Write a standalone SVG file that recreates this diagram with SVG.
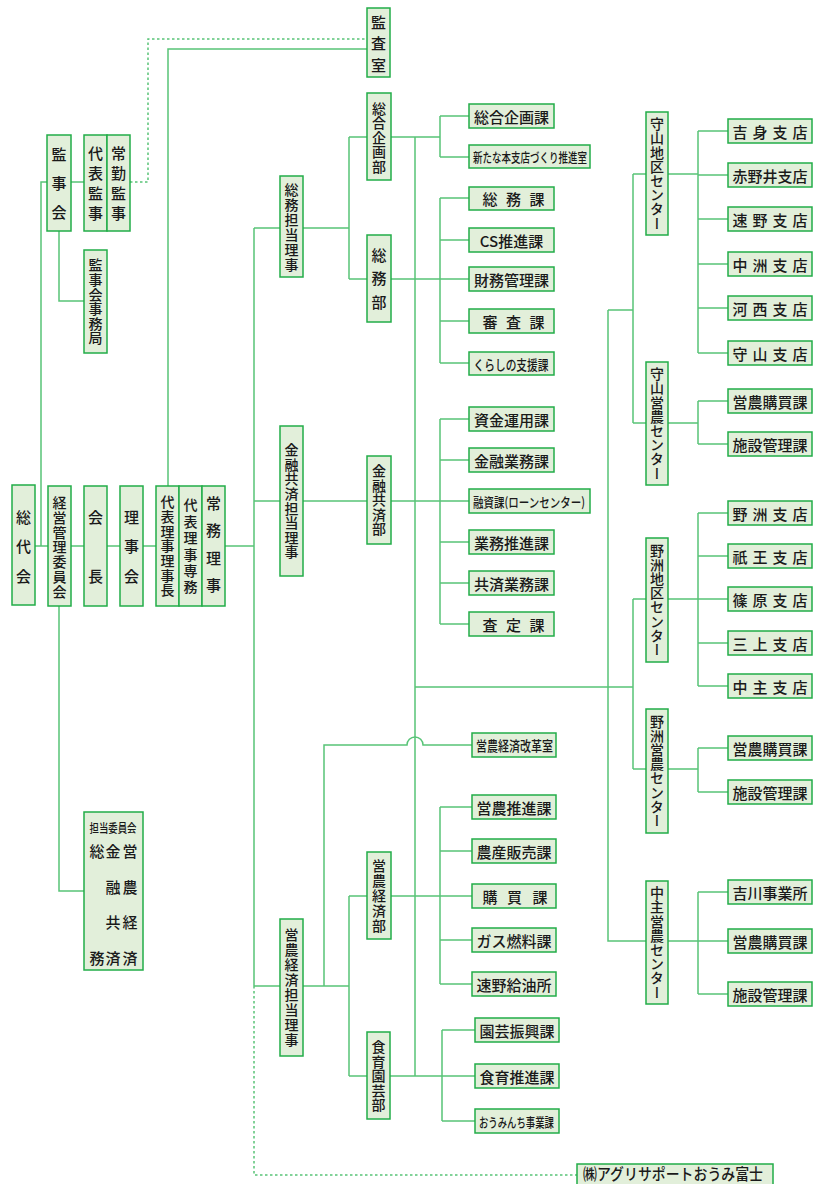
<svg xmlns="http://www.w3.org/2000/svg" width="816" height="1184" viewBox="0 0 816 1184">
<style>
.b{fill:#e2efda;stroke:#22ad48;stroke-width:1.5}
.t{font-family:"Noto Sans CJK JP","Noto Sans CJK SC",sans-serif;font-size:15px;font-weight:500;fill:#1a1a1a;text-anchor:middle;dominant-baseline:central}
.v{writing-mode:vertical-rl;font-size:14px}
.c{fill:none;stroke:#58c477;stroke-width:1.5}
.d{fill:none;stroke:#58c477;stroke-width:1.5;stroke-dasharray:2.5 2.5}
</style>
<rect width="816" height="1184" fill="#fff"/>
<g id="connectors">
<path class="c" d="M35,546H48M71,546H84M107,546H120M143,546H156M225,546H254M41,546V182H47M71,182H84M168,486V49H367M59,231V301H84M59,606V891H84M254,228V986M254,228H280M254,501H280M254,986H280"/>
<path class="c" d="M303,228H349M349,137V279M349,137H367M349,279H367M391,137H440M440,116V157M440,116H469M440,157H469M415,137V1076"/>
<path class="c" d="M391,279H440M440,198V363M440,198H469M440,240H469M440,279H469M440,321H469M440,363H469"/>
<path class="c" d="M303,501H367M391,501H440M440,419V624M440,419H469M440,460H469M440,501H469M440,542H469M440,583H469M440,624H469"/>
<path class="c" d="M303,986H349M349,896V1076M349,896H367M349,1076H367M324,986V745H407A8,8 0 0 1 423,745H472"/>
<path class="c" d="M391,896H440M440,807V984M440,807H472M440,851H472M440,896H472M440,940H472M440,984H472"/>
<path class="c" d="M390,1076H442M442,1030V1121M442,1030H475M442,1076H475M442,1121H475"/>
<path class="c" d="M415,687H633M633,599V769M633,599H646M633,769H646M608,310V941H646M608,310H633M633,174V423M633,174H646M633,423H646"/>
<path class="c" d="M668,174H698M698,131V353M698,131H728M698,175H728M698,219H728M698,264H728M698,308H728M698,353H728M668,423H698M698,401V444M698,401H728M698,444H728"/>
<path class="c" d="M668,599H698M698,513V686M698,513H728M698,556H728M698,599H728M698,643H728M698,686H728M668,769H698M698,748V792M698,748H728M698,792H728"/>
<path class="c" d="M668,941H698M698,892V994M698,892H728M698,941H728M698,994H728"/>
<path class="d" d="M130,182H148V39H367M254,986V1175H577"/>
</g>
<g id="kansashitsu"><rect class="b" x="367" y="8" width="23" height="69"/><text class="t v" x="378.5" y="22 43.5 65" style="font-size:15px">監査室</text></g>
<g id="sodaikai"><rect class="b" x="12" y="485" width="23" height="120"/><text class="t v" x="23.5" y="517 546.5 576" style="font-size:15px">総代会</text></g>
<g id="keiei"><rect class="b" x="48" y="486" width="23" height="120"/><text class="t v" x="59.5" y="502.6 517.4 532.2 547 561.8 576.6 591.4">経営管理委員会</text></g>
<g id="kaicho"><rect class="b" x="84" y="486" width="23" height="120"/><text class="t v" x="95.5" y="517 576" style="font-size:15px">会長</text></g>
<g id="rijikai"><rect class="b" x="120" y="486" width="23" height="120"/><text class="t v" x="131.5" y="517 546.5 576" style="font-size:15px">理事会</text></g>
<g id="rijicho"><rect class="b" x="156" y="486" width="23" height="120"/><text class="t v" x="167.5" y="501.9 516.6 531.3 546 560.7 575.4 590.1">代表理事理事長</text></g>
<g id="senmu"><rect class="b" x="179" y="486" width="23" height="120"/><text class="t v" x="190.5" y="505 521.4 537.8 554.2 570.6 587">代表理事専務</text></g>
<g id="jomu"><rect class="b" x="202" y="486" width="23" height="120"/><text class="t v" x="213.5" y="503 530.5 558 585.5" style="font-size:15px">常務理事</text></g>
<g id="kanjikai"><rect class="b" x="47" y="135" width="24" height="96"/><text class="t v" x="59" y="154 183 212" style="font-size:15px">監事会</text></g>
<g id="daihyokanji"><rect class="b" x="84" y="135" width="23" height="96"/><text class="t v" x="95.5" y="153 173 193 213" style="font-size:15px">代表監事</text></g>
<g id="jokinkanji"><rect class="b" x="107" y="135" width="23" height="96"/><text class="t v" x="118.5" y="153 173 193 213" style="font-size:15px">常勤監事</text></g>
<g id="kanjijimukyoku"><rect class="b" x="84" y="250" width="23" height="103"/><text class="t v" x="95.5" y="265 279.6 294.2 308.8 323.4 338">監事会事務局</text></g>
<g id="tantoiinkai"><rect class="b" x="84" y="812" width="59" height="158"/>
<text class="t" x="113" y="827" style="font-size:12px" textLength="47" lengthAdjust="spacingAndGlyphs">担当委員会</text>
<text class="t v" x="97" y="851 958" style="font-size:15px">総務</text>
<text class="t v" x="113" y="851 887 922 958" style="font-size:15px">金融共済</text>
<text class="t v" x="130" y="851 887 922 958" style="font-size:15px">営農経済</text></g>
<g id="somutanto"><rect class="b" x="280" y="176" width="23" height="101"/><text class="t v" x="291.5" y="189.5 204.5 219.5 234.5 249.5 264.5">総務担当理事</text></g>
<g id="kinyutanto"><rect class="b" x="280" y="426" width="23" height="150"/><text class="t v" x="291.5" y="449.9 464.5 479.1 493.7 508.3 522.9 537.5 552.1">金融共済担当理事</text></g>
<g id="einotanto"><rect class="b" x="280" y="919" width="23" height="137"/><text class="t v" x="291.5" y="934.5 949.5 964.5 979.5 994.5 1009.5 1024.5 1039.5">営農経済担当理事</text></g>
<g id="sogokikakubu"><rect class="b" x="367" y="93" width="24" height="87"/><text class="t v" x="379" y="108.5 123 137.5 152 166.5">総合企画部</text></g>
<g id="somubu"><rect class="b" x="367" y="235" width="24" height="87"/><text class="t v" x="379" y="255 278.5 302" style="font-size:15px">総務部</text></g>
<g id="kinyubu"><rect class="b" x="367" y="456" width="24" height="88"/><text class="t v" x="379" y="471 485.5 500 514.5 529">金融共済部</text></g>
<g id="einobu"><rect class="b" x="367" y="852" width="24" height="87"/><text class="t v" x="379" y="865.5 880.5 895.5 910.5 925.5">営農経済部</text></g>
<g id="shokuikubu"><rect class="b" x="367" y="1032" width="23" height="87"/><text class="t v" x="378.5" y="1047 1061.5 1076 1090.5 1105">食育園芸部</text></g>
<g id="sogokikakuka"><rect class="b" x="469" y="104" width="85" height="24"/><text class="t" x="511.5" y="116">総合企画課</text></g>
<g id="atarashii"><rect class="b" x="469" y="145" width="121" height="23"/><text class="t" x="530" y="156.5" style="font-size:13px" textLength="114" lengthAdjust="spacingAndGlyphs">新たな本支店づくり推進室</text></g>
<g id="somuka"><rect class="b" x="469" y="187" width="85" height="23"/><text class="t" x="490 513.5 537" y="198.5">総務課</text></g>
<g id="cs"><rect class="b" x="469" y="228" width="85" height="24"/><text class="t" x="511.5" y="240">CS推進課</text></g>
<g id="zaimu"><rect class="b" x="469" y="267" width="85" height="24"/><text class="t" x="511.5" y="279">財務管理課</text></g>
<g id="shinsa"><rect class="b" x="469" y="309" width="85" height="24"/><text class="t" x="490 513.5 537" y="321">審査課</text></g>
<g id="kurashi"><rect class="b" x="469" y="352" width="85" height="23"/><text class="t" x="511" y="363.5" style="font-size:14px" textLength="75" lengthAdjust="spacingAndGlyphs">くらしの支援課</text></g>
<g id="shikin"><rect class="b" x="469" y="407" width="85" height="24"/><text class="t" x="511.5" y="419">資金運用課</text></g>
<g id="kinyugyomu"><rect class="b" x="469" y="448" width="85" height="24"/><text class="t" x="511.5" y="460">金融業務課</text></g>
<g id="yushi"><rect class="b" x="469" y="489" width="121" height="24"/><text class="t" x="529" y="501" style="font-size:13px" textLength="112" lengthAdjust="spacingAndGlyphs">融資課(ローンセンター)</text></g>
<g id="gyomusuishin"><rect class="b" x="469" y="530" width="85" height="24"/><text class="t" x="511.5" y="542">業務推進課</text></g>
<g id="kyosai"><rect class="b" x="469" y="571" width="85" height="24"/><text class="t" x="511.5" y="583">共済業務課</text></g>
<g id="satei"><rect class="b" x="469" y="612" width="85" height="24"/><text class="t" x="490 513.5 537" y="624">査定課</text></g>
<g id="kaikaku"><rect class="b" x="472" y="733" width="84" height="24"/><text class="t" x="514.5" y="745" style="font-size:14px" textLength="77" lengthAdjust="spacingAndGlyphs">営農経済改革室</text></g>
<g id="einosuishin"><rect class="b" x="472" y="795" width="84" height="24"/><text class="t" x="514" y="807">営農推進課</text></g>
<g id="nosan"><rect class="b" x="472" y="839" width="84" height="24"/><text class="t" x="514" y="851">農産販売課</text></g>
<g id="kobai"><rect class="b" x="472" y="884" width="84" height="24"/><text class="t" x="490 514.5 540" y="896">購買課</text></g>
<g id="gas"><rect class="b" x="472" y="928" width="84" height="24"/><text class="t" x="514" y="940">ガス燃料課</text></g>
<g id="hayano"><rect class="b" x="472" y="972" width="84" height="24"/><text class="t" x="514" y="984">速野給油所</text></g>
<g id="engei"><rect class="b" x="475" y="1018" width="84" height="24"/><text class="t" x="517" y="1030">園芸振興課</text></g>
<g id="shokuiku"><rect class="b" x="475" y="1064" width="84" height="24"/><text class="t" x="517" y="1076">食育推進課</text></g>
<g id="oumin"><rect class="b" x="475" y="1109" width="84" height="24"/><text class="t" x="516.5" y="1121" style="font-size:13px" textLength="75" lengthAdjust="spacingAndGlyphs">おうみんち事業課</text></g>
<g id="agri"><rect class="b" x="577" y="1164" width="196" height="26"/><text class="t" x="673" y="1173" style="font-size:15.5px" textLength="180" lengthAdjust="spacingAndGlyphs">㈱アグリサポートおうみ富士</text></g>
<g id="moriyamachiku"><rect class="b" x="646" y="112" width="22" height="123"/><text class="t v" x="657" y="123.8 138 152.2 166.4 180.6 194.8 209 223.2">守山地区センター</text></g>
<g id="moriyamaeino"><rect class="b" x="646" y="362" width="22" height="123"/><text class="t v" x="657" y="373.8 388 402.2 416.4 430.6 444.8 459 473.2">守山営農センター</text></g>
<g id="yasuchiku"><rect class="b" x="646" y="538" width="22" height="124"/><text class="t v" x="657" y="550.3 564.5 578.7 592.9 607.1 621.3 635.5 649.7">野洲地区センター</text></g>
<g id="yasueino"><rect class="b" x="646" y="709" width="22" height="124"/><text class="t v" x="657" y="721.3 735.5 749.7 763.9 778.1 792.3 806.5 820.7">野洲営農センター</text></g>
<g id="chuzueino"><rect class="b" x="646" y="881" width="22" height="123"/><text class="t v" x="657" y="892.8 907 921.2 935.4 949.6 963.8 978 992.2">中主営農センター</text></g>
<g id="yoshimi"><rect class="b" x="728" y="119" width="84" height="24"/><text class="t" x="740 760 780 800" y="131">吉身支店</text></g>
<g id="akanoi"><rect class="b" x="728" y="163" width="84" height="24"/><text class="t" x="770" y="175">赤野井支店</text></g>
<g id="hayanoshiten"><rect class="b" x="728" y="207" width="84" height="24"/><text class="t" x="740 760 780 800" y="219">速野支店</text></g>
<g id="nakasu"><rect class="b" x="728" y="252" width="84" height="24"/><text class="t" x="740 760 780 800" y="264">中洲支店</text></g>
<g id="kawanishi"><rect class="b" x="728" y="296" width="84" height="24"/><text class="t" x="740 760 780 800" y="308">河西支店</text></g>
<g id="moriyamashiten"><rect class="b" x="728" y="341" width="84" height="24"/><text class="t" x="740 760 780 800" y="353">守山支店</text></g>
<g id="moriyamakobai"><rect class="b" x="728" y="389" width="84" height="24"/><text class="t" x="770" y="401">営農購買課</text></g>
<g id="moriyamashisetsu"><rect class="b" x="728" y="432" width="84" height="24"/><text class="t" x="770" y="444">施設管理課</text></g>
<g id="yasushiten"><rect class="b" x="728" y="501" width="84" height="24"/><text class="t" x="740 760 780 800" y="513">野洲支店</text></g>
<g id="gio"><rect class="b" x="728" y="544" width="84" height="24"/><text class="t" x="740 760 780 800" y="556">祇王支店</text></g>
<g id="shinohara"><rect class="b" x="728" y="587" width="84" height="24"/><text class="t" x="740 760 780 800" y="599">篠原支店</text></g>
<g id="mikami"><rect class="b" x="728" y="631" width="84" height="24"/><text class="t" x="740 760 780 800" y="643">三上支店</text></g>
<g id="chuzushiten"><rect class="b" x="728" y="674" width="84" height="24"/><text class="t" x="740 760 780 800" y="686">中主支店</text></g>
<g id="yasukobai"><rect class="b" x="728" y="736" width="84" height="24"/><text class="t" x="770" y="748">営農購買課</text></g>
<g id="yasushisetsu"><rect class="b" x="728" y="780" width="84" height="24"/><text class="t" x="770" y="792">施設管理課</text></g>
<g id="yoshikawa"><rect class="b" x="728" y="880" width="84" height="24"/><text class="t" x="770" y="892">吉川事業所</text></g>
<g id="chuzukobai"><rect class="b" x="728" y="929" width="84" height="24"/><text class="t" x="770" y="941">営農購買課</text></g>
<g id="chuzushisetsu"><rect class="b" x="728" y="982" width="84" height="24"/><text class="t" x="770" y="994">施設管理課</text></g>
</svg>
